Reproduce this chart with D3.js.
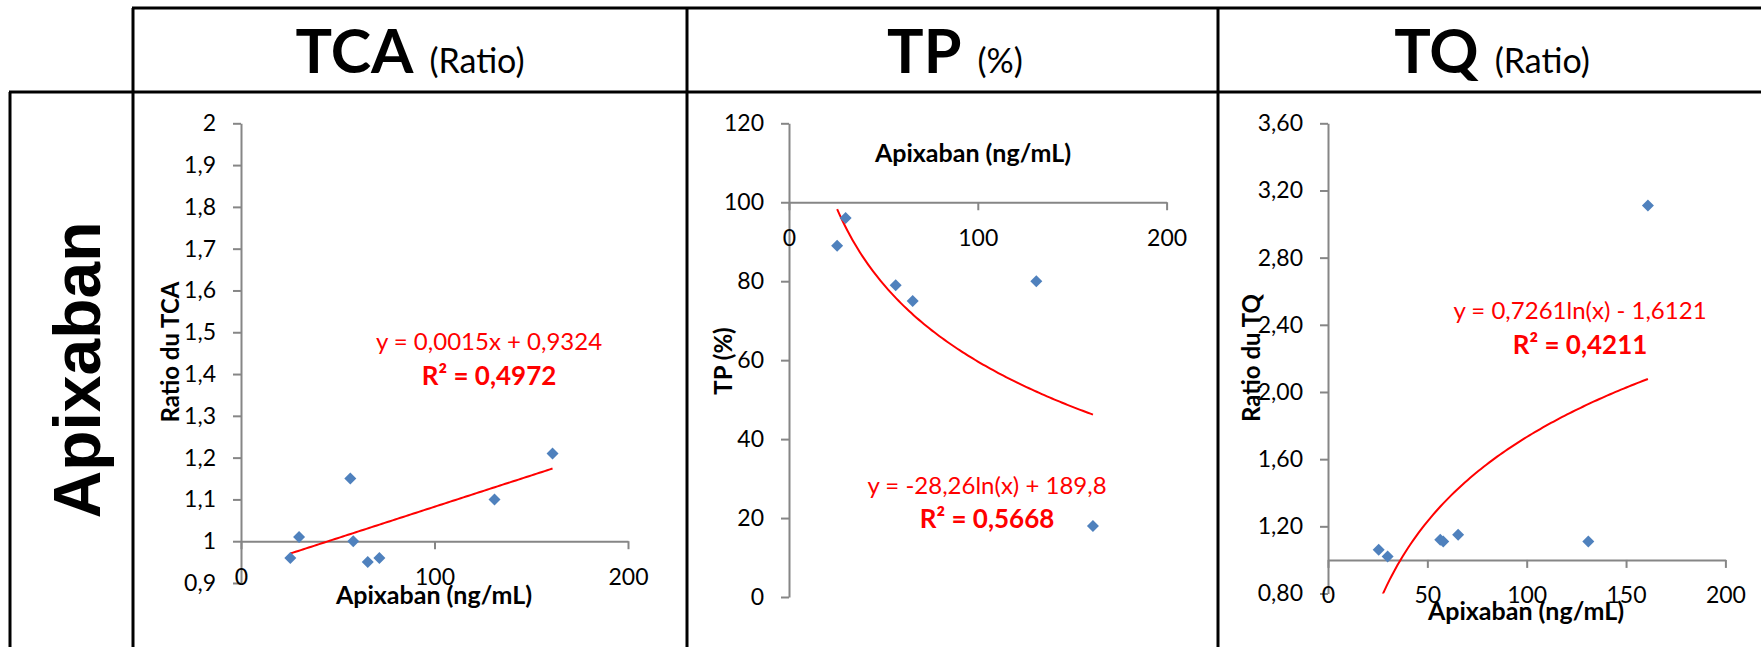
<!DOCTYPE html>
<html>
<head>
<meta charset="utf-8">
<script src="https://cdn.jsdelivr.net/npm/d3@7/dist/d3.min.js"></script>
<style>
body{margin:0;background:#fff;}
svg{display:block;font-family:Lato,"Open Sans",sans-serif;}
</style>
</head>
<body>
<svg id="chart" width="1761" height="647"></svg>
<script>
// headers of the table
const columns = ["TCA", "TP", "TQ"];
const units = ["(Ratio)", "(%)", "(Ratio)"];
const rowLabel = "Apixaban";
const xTitle = "Apixaban (ng/mL)";

// TCA ratio vs apixaban
const tcaX = [25.5, 30, 56.5, 58, 65.5, 71.5, 131, 161];
const tcaY = [0.96, 1.01, 1.15, 1.00, 0.95, 0.96, 1.10, 1.21];
const tcaTicks = [0.9, 1.0, 1.1, 1.2, 1.3, 1.4, 1.5, 1.6, 1.7, 1.8, 1.9, 2.0];
const tcaTickLabels = ["0,9", "1", "1,1", "1,2", "1,3", "1,4", "1,5", "1,6", "1,7", "1,8", "1,9", "2"];
const tcaFit = [0.0015, 0.9324];
const tcaEq = "y = 0,0015x + 0,9324";
const tcaR2 = "R² = 0,4972";

// TP % vs apixaban
const tpX = [25.5, 30, 56.5, 65.5, 131, 161];
const tpY = [89, 96, 79, 75, 80, 18];
const tpTicks = [0, 20, 40, 60, 80, 100, 120];
const tpTickLabels = ["0", "20", "40", "60", "80", "100", "120"];
const tpFit = [-28.26, 189.8];
const tpEq = "y = -28,26ln(x) + 189,8";
const tpR2 = "R² = 0,5668";

// TQ ratio vs apixaban
const tqX = [25.5, 30, 56.5, 58, 65.5, 131, 161];
const tqY = [1.06, 1.02, 1.12, 1.11, 1.15, 1.11, 3.11];
const tqTicks = [0.8, 1.2, 1.6, 2.0, 2.4, 2.8, 3.2, 3.6];
const tqTickLabels = ["0,80", "1,20", "1,60", "2,00", "2,40", "2,80", "3,20", "3,60"];
const tqFit = [0.7261, -1.6121];
const tqEq = "y = 0,7261ln(x) - 1,6121";
const tqR2 = "R² = 0,4211";

document.addEventListener("DOMContentLoaded", setup);

function setup(){
    const svg = d3.select("#chart");
    drawTable(svg);

    drawPanel(svg, {
        id: "tca", xs: tcaX, ys: tcaY, ticks: tcaTicks, tickLabels: tcaTickLabels,
        xTicks: [0, 100, 200], fit: tcaFit, log: false, eq: tcaEq, r2: tcaR2,
        yTitle: "Ratio du TCA", left: 241, right: 628, top: 123.3, bottom: 583, cross: 1,
        xTitlePos: [434, 604], yTitlePos: [179, 352], eqPos: [489, 350], r2Pos: [489, 385]
    });
    drawPanel(svg, {
        id: "tp", xs: tpX, ys: tpY, ticks: tpTicks, tickLabels: tpTickLabels,
        xTicks: [0, 100, 200], fit: tpFit, log: true, eq: tpEq, r2: tpR2,
        yTitle: "TP (%)", left: 789, right: 1166.6, top: 123.3, bottom: 597, cross: 100,
        xTitlePos: [973, 161.7], yTitlePos: [732, 361], eqPos: [987, 494], r2Pos: [987, 527.7]
    });
    drawPanel(svg, {
        id: "tq", xs: tqX, ys: tqY, ticks: tqTicks, tickLabels: tqTickLabels,
        xTicks: [0, 50, 100, 150, 200], fit: tqFit, log: true, eq: tqEq, r2: tqR2,
        yTitle: "Ratio du TQ", left: 1328, right: 1725.4, top: 123.3, bottom: 593.5, cross: 1,
        xTitlePos: [1526, 620], yTitlePos: [1260, 358], eqPos: [1580, 319.3], r2Pos: [1580, 354]
    });
}

function drawTable(svg){
    const g = svg.append("g").attr("stroke", "#000").attr("stroke-width", 3);
    const segs = [
        [132, 8, 1761, 8],
        [9, 92, 1761, 92],
        [10, 92, 10, 647],
        [133, 8, 133, 647],
        [687, 8, 687, 647],
        [1218, 8, 1218, 647]
    ];
    g.selectAll("line").data(segs).enter().append("line")
        .attr("x1", d => d[0]).attr("y1", d => d[1])
        .attr("x2", d => d[2]).attr("y2", d => d[3]);

    const centers = [410, 955, 1492];
    columns.forEach((c, i) => {
        const t = svg.append("text")
            .attr("x", centers[i]).attr("y", 73)
            .attr("text-anchor", "middle");
        t.append("tspan").text(c)
            .attr("font-weight", "bold").attr("font-size", 61);
        t.append("tspan").text(units[i])
            .attr("dx", 16)
            .attr("font-size", 34);
    });

    svg.append("text")
        .attr("transform", "translate(100,370) rotate(-90)")
        .attr("text-anchor", "middle")
        .attr("font-family", "'Liberation Sans', Arial, sans-serif")
        .attr("font-weight", "bold")
        .attr("font-size", 66)
        .text(rowLabel);
}

function drawPanel(svg, p){
    const x = d3.scaleLinear().domain([0, 200]).range([p.left, p.right]);
    const y = d3.scaleLinear().domain([p.ticks[0], p.ticks[p.ticks.length - 1]]).range([p.bottom, p.top]);
    const g = svg.append("g").attr("class", p.id);
    const axisColor = "#868686";

    g.append("clipPath").attr("id", "clip-" + p.id)
        .append("rect")
        .attr("x", p.left).attr("y", p.top)
        .attr("width", p.right - p.left).attr("height", p.bottom - p.top);

    const yAxis = g.append("g")
        .attr("transform", "translate(" + p.left + ",0)")
        .call(d3.axisLeft(y).tickValues(p.ticks)
            .tickFormat((d, i) => p.tickLabels[i])
            .tickSize(8).tickSizeOuter(0).tickPadding(17));

    const xAxis = g.append("g")
        .attr("transform", "translate(0," + y(p.cross) + ")")
        .call(d3.axisBottom(x).tickValues(p.xTicks)
            .tickSize(8).tickSizeOuter(0).tickPadding(19));

    [yAxis, xAxis].forEach(a => {
        a.attr("font-family", null).attr("font-size", 23);
        a.select(".domain").attr("stroke", axisColor).attr("stroke-width", 2);
        a.selectAll(".tick line").attr("stroke", axisColor).attr("stroke-width", 2);
        a.selectAll(".tick text").attr("fill", "#000");
    });

    // trend line from min to max concentration
    const xmin = d3.min(p.xs), xmax = d3.max(p.xs);
    const f = v => p.log ? p.fit[0] * Math.log(v) + p.fit[1] : p.fit[0] * v + p.fit[1];
    const curve = d3.range(0, 101).map(i => {
        const v = xmin + (xmax - xmin) * i / 100;
        return [v, f(v)];
    });
    g.append("path")
        .datum(curve)
        .attr("clip-path", "url(#clip-" + p.id + ")")
        .attr("fill", "none")
        .attr("stroke", "#ff0000")
        .attr("stroke-width", 2)
        .attr("d", d3.line().x(d => x(d[0])).y(d => y(d[1])));

    const pts = p.xs.map((v, i) => [v, p.ys[i]]);
    g.append("g").selectAll("path")
        .data(pts)
        .enter()
        .append("path")
        .attr("d", d3.symbol().type(d3.symbolSquare).size(72))
        .attr("transform", d => "translate(" + x(d[0]) + "," + y(d[1]) + ") rotate(45)")
        .attr("fill", "#4f81bd");

    g.append("text")
        .attr("x", p.xTitlePos[0]).attr("y", p.xTitlePos[1])
        .attr("text-anchor", "middle")
        .attr("font-weight", "bold").attr("font-size", 25)
        .text(xTitle);

    g.append("text")
        .attr("transform", "translate(" + p.yTitlePos[0] + "," + p.yTitlePos[1] + ") rotate(-90)")
        .attr("text-anchor", "middle")
        .attr("font-weight", "bold").attr("font-size", 24)
        .text(p.yTitle);

    g.append("text")
        .attr("x", p.eqPos[0]).attr("y", p.eqPos[1])
        .attr("text-anchor", "middle")
        .attr("fill", "#ff0000").attr("font-size", 24)
        .text(p.eq);

    g.append("text")
        .attr("x", p.r2Pos[0]).attr("y", p.r2Pos[1])
        .attr("text-anchor", "middle")
        .attr("fill", "#ff0000").attr("font-weight", "bold").attr("font-size", 26)
        .text(p.r2);
}
</script>
</body>
</html>
